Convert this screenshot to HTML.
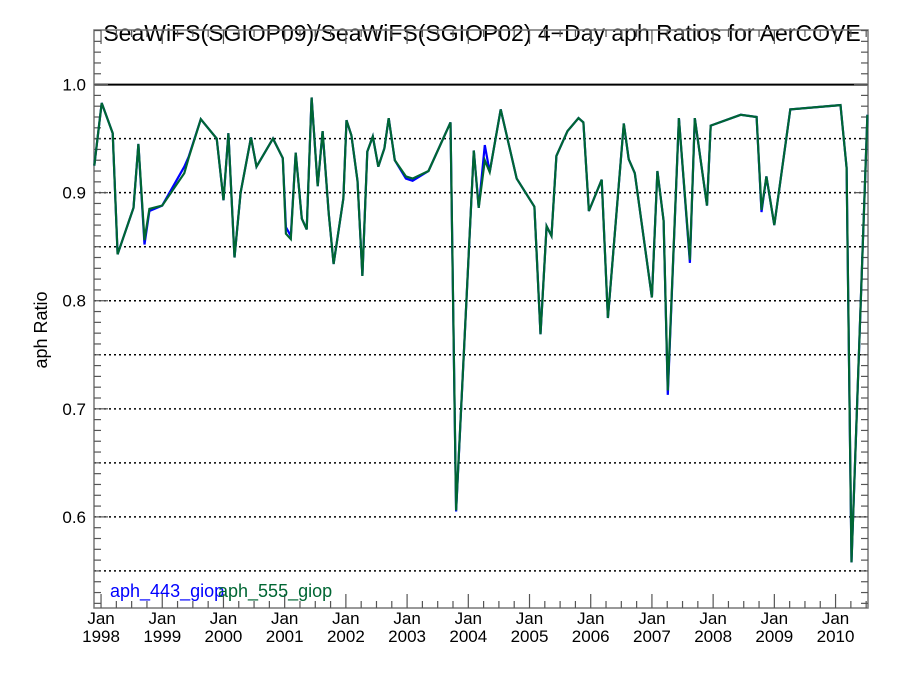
<!DOCTYPE html>
<html><head><meta charset="utf-8"><style>
body{margin:0;background:#fff}
svg text{font-family:"Liberation Sans",sans-serif}
</style></head><body>
<svg id="chart" width="900" height="675" xmlns="http://www.w3.org/2000/svg">
<rect width="900" height="675" fill="#fff"/>
<text x="482" y="41" font-size="23" text-anchor="middle">SeaWiFS(SGIOP09)/SeaWiFS(SGIOP02) 4−Day aph Ratios for AerCOVE</text>
<text transform="translate(47,330) rotate(-90)" font-size="18" text-anchor="middle">aph Ratio</text>
<g id="grid"></g><g id="axes"></g><g id="series"></g>
<text x="110" y="597" font-size="18" fill="#0000ff">aph_443_giop</text>
<text x="218" y="597" font-size="18" fill="#006633">aph_555_giop</text>
</svg>
<script>
const dates=[1997.89,1998.01,1998.19,1998.27,1998.53,1998.61,1998.71,1998.79,1999.00,1999.36,1999.43,1999.63,1999.89,2000.00,2000.08,2000.18,2000.28,2000.45,2000.54,2000.81,2000.97,2001.02,2001.10,2001.18,2001.28,2001.36,2001.44,2001.54,2001.62,2001.72,2001.80,2001.96,2002.01,2002.09,2002.19,2002.27,2002.35,2002.44,2002.53,2002.63,2002.70,2002.80,2002.98,2003.09,2003.35,2003.71,2003.80,2004.09,2004.17,2004.27,2004.35,2004.53,2004.79,2005.08,2005.18,2005.28,2005.36,2005.44,2005.62,2005.80,2005.88,2005.97,2006.18,2006.28,2006.54,2006.62,2006.72,2007.00,2007.09,2007.19,2007.26,2007.44,2007.62,2007.70,2007.90,2007.96,2008.45,2008.71,2008.79,2008.87,2009.00,2009.26,2010.08,2010.18,2010.26,2010.52];
const aph555=[0.925,0.983,0.955,0.843,0.886,0.945,0.856,0.885,0.888,0.918,0.932,0.968,0.950,0.893,0.955,0.840,0.900,0.951,0.924,0.950,0.932,0.862,0.857,0.937,0.876,0.866,0.988,0.906,0.957,0.881,0.834,0.895,0.967,0.953,0.911,0.823,0.938,0.952,0.924,0.941,0.969,0.930,0.915,0.913,0.920,0.965,0.606,0.939,0.886,0.930,0.919,0.977,0.913,0.887,0.769,0.869,0.860,0.934,0.957,0.969,0.965,0.883,0.912,0.784,0.964,0.931,0.918,0.803,0.920,0.874,0.717,0.969,0.838,0.969,0.888,0.962,0.972,0.970,0.884,0.915,0.870,0.977,0.981,0.923,0.558,0.972];
const aph443=[0.925,0.983,0.955,0.843,0.886,0.945,0.852,0.883,0.888,0.924,0.933,0.968,0.950,0.893,0.955,0.840,0.900,0.951,0.924,0.950,0.932,0.868,0.860,0.937,0.876,0.866,0.988,0.906,0.957,0.881,0.834,0.895,0.967,0.953,0.911,0.823,0.938,0.952,0.924,0.941,0.969,0.930,0.913,0.911,0.920,0.965,0.605,0.939,0.886,0.944,0.919,0.977,0.913,0.887,0.769,0.869,0.860,0.934,0.957,0.969,0.965,0.883,0.912,0.784,0.964,0.931,0.918,0.803,0.920,0.874,0.713,0.969,0.835,0.969,0.888,0.962,0.972,0.970,0.882,0.915,0.870,0.977,0.981,0.923,0.558,0.972];
const yTickLabels=["0.6","0.7","0.8","0.9","1.0"];
const xTickYears=[1998,1999,2000,2001,2002,2003,2004,2005,2006,2007,2008,2009,2010];
const gridVals=[0.55,0.6,0.65,0.7,0.75,0.8,0.85,0.9,0.95];

const L=94,R=868,T=30,B=608;
const xmin=1997.885,xmax=2010.53,ymin=0.5157,ymax=1.0505;
const X=t=>L+(t-xmin)/(xmax-xmin)*(R-L);
const Y=v=>B-(v-ymin)/(ymax-ymin)*(B-T);
const NS="http://www.w3.org/2000/svg";
function mk(tag,attrs,parent,txt){const e=document.createElementNS(NS,tag);for(const k in attrs)e.setAttribute(k,attrs[k]);if(txt!==undefined)e.textContent=txt;parent.appendChild(e);return e;}
const grid=document.getElementById('grid'),axes=document.getElementById('axes'),series=document.getElementById('series');
gridVals.forEach(v=>{const l=mk('line',{x1:L,x2:R,y1:Y(v),y2:Y(v),stroke:'#000','stroke-width':1.5,'stroke-dasharray':'2,3'},grid);

});
const one=mk('line',{x1:L,x2:R,y1:Y(1),y2:Y(1),stroke:'#000','stroke-width':2},grid);


const frame=mk('rect',{x:L,y:T,width:R-L,height:B-T,fill:'none',stroke:'#777','stroke-width':1.5},axes);


// y ticks
for(let i=52;i<=105;i++){const v=i/100;if(v<ymin||v>ymax)continue;const len=(i%10===0)?14:7;
mk('line',{x1:L,x2:L+len,y1:Y(v),y2:Y(v),stroke:'#555','stroke-width':1.2},axes);
mk('line',{x1:R,x2:R-len,y1:Y(v),y2:Y(v),stroke:'#555','stroke-width':1.2},axes);}
yTickLabels.forEach(s=>{const t=mk('text',{x:L-8,y:Y(+s)+6,'font-size':17,'text-anchor':'end'},axes,s);

});
// x ticks
for(let q=1997*4;q<=2011*4;q++){const t=q/4;if(t<xmin||t>xmax)continue;const len=(q%4===0)?14:7;
mk('line',{x1:X(t),x2:X(t),y1:B,y2:B-len,stroke:'#555','stroke-width':1.2},axes);
mk('line',{x1:X(t),x2:X(t),y1:T,y2:T+len,stroke:'#555','stroke-width':1.2},axes);}
xTickYears.forEach(yr=>{const a=mk('text',{x:X(yr),y:624,'font-size':17,'text-anchor':'middle'},axes,'Jan');


const b=mk('text',{x:X(yr),y:642,'font-size':17,'text-anchor':'middle'},axes,String(yr));

});
function line(vals,color,name){const p=vals.map((v,i)=>X(dates[i]).toFixed(1)+','+Y(v).toFixed(1)).join(' ');
const e=mk('polyline',{points:p,fill:'none',stroke:color,'stroke-width':2.2,'stroke-linejoin':'miter'},series);

}
line(aph443,'#0000ff','series-aph-443');
line(aph555,'#006633','series-aph-555');
</script>
</body></html>
